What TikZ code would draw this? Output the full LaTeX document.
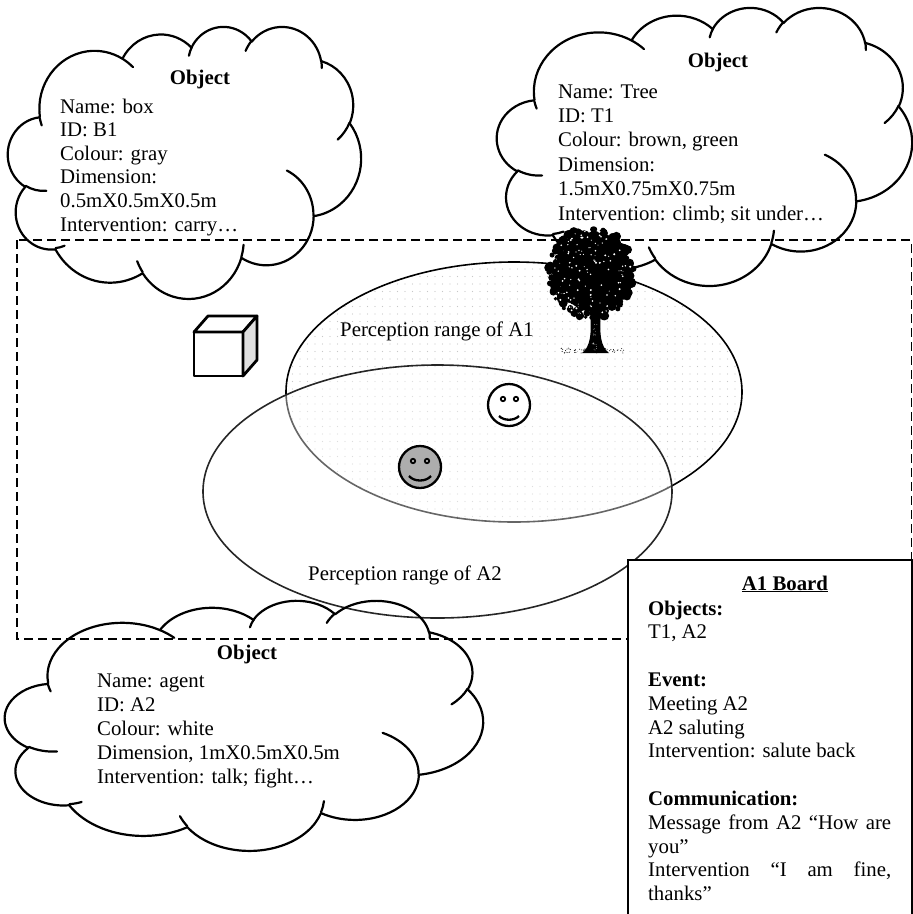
\documentclass[tikz,border=0pt]{standalone}
\usepackage{fontspec}
\setmainfont{Liberation Serif}
\usetikzlibrary{patterns.meta}

\tikzset{
  cloudline/.style={line width=2.2pt, line cap=round, line join=round},
  txt/.style={inner sep=0pt, font=\fontsize{20.8}{24}\selectfont},
  rangeA/.style={draw=black, line width=1.6pt,
    pattern={Dots[distance=7.5pt, radius=0.6pt]}, pattern color=black!22},
  rangeB/.style={draw=black!85, line width=1.6pt, fill=white, fill opacity=0.4},
  frame/.style={dash pattern=on 9pt off 5pt, line width=1.8pt},
  cubeline/.style={line width=2.8pt, line join=round},
  face/.style={line width=2.3pt},
  boardline/.style={line width=1.8pt, fill=white},
}

% Office-style cloud outline in a 100 x 100 box, placed at (#1,#2) with size #3 x #4
\newcommand\drawcloud[4]{%
  \begin{scope}[shift={(#1,#2)}, xscale=#3/100, yscale=#4/100, cloudline]
    \draw (9.028,33.264)
      arc[start angle=172.25, end angle=300.36, x radius=15.632, y radius=21.273]
      arc[start angle=207.98, end angle=314.55, x radius=12.345, y radius=16.822]
      arc[start angle=206.51, end angle=322.68, x radius=10.104, y radius=13.762]
      arc[start angle=220.27, end angle=349.78, x radius=11.243, y radius=15.266]
      arc[start angle=-74.77, end angle=23.21, x radius=12.345, y radius=16.836]
      arc[start angle=-37.53, end angle=81.86, x radius=15.683, y radius=21.343]
      arc[start angle=0.46, end angle=121.98, x radius=13.391, y radius=18.211]
      arc[start angle=16.84, end angle=146.24, x radius=15.630, y radius=21.331]
      arc[start angle=58.98, end angle=150.18, x radius=17.870, y radius=24.405]
      arc[start angle=83.31, end angle=223.12, x radius=10.093, y radius=13.699]
      arc[start angle=120.36, end angle=264.11, x radius=10.058, y radius=13.762]
      -- cycle;
    % inner hooks where the puffs meet
    \draw (10.863,60.595) arc[start angle=85.54, end angle=120.36, x radius=10.058, y radius=13.762];
    \draw (16.037,80.785) arc[start angle=68.23, end angle=83.31, x radius=10.093, y radius=13.699];
    \draw (38.144,90.486) arc[start angle=146.24, end angle=158.47, x radius=15.630, y radius=21.331];
    \draw (66.729,80.442) arc[start angle=4.73, end angle=16.84, x radius=15.630, y radius=21.331];
    \draw (79.002,53.134) arc[start angle=-64.03, end angle=0.46, x radius=13.391, y radius=18.211];
    \draw (96.755,35.542) arc[start angle=23.21, end angle=49.63, x radius=12.345, y radius=16.836];
    \draw (88.713,12.560) arc[start angle=-10.21, end angle=0.82, x radius=11.243, y radius=15.266];
    \draw (67.310,9.148) arc[start angle=-156.30, end angle=-139.73, x radius=11.243, y radius=15.266];
    \draw (51.252,10.926) arc[start angle=-167.72, end angle=-153.49, x radius=10.104, y radius=13.762];
    \draw (32.407,12.019) arc[start angle=-59.64, end angle=-45.74, x radius=15.632, y radius=21.273];
    \draw (9.553,36.549) arc[start angle=160.38, end angle=167.70, x radius=15.632, y radius=21.273];
  \end{scope}}

\begin{document}
\begin{tikzpicture}[x=1pt, y=-1pt]
  \path[use as bounding box, fill=white] (0,0) rectangle (913,914);

  % perception ranges
  \path[rangeA] (514,392) ellipse [x radius=228, y radius=130];
  \path[rangeB] (437.5,491.5) ellipse [x radius=234.5, y radius=126.5];

  % environment frame
  \draw[frame] (17,240) rectangle (911.5,639);

  % object clouds
  \drawcloud{8}{26}{353}{272}
  \drawcloud{497}{7}{415}{278}
  \drawcloud{5}{600}{478}{250}

  % tree
  \begin{scope}
    \pgfmathsetseed{42}
    \foreach \i in {1,...,60}{
      \pgfmathsetmacro\gx{560+64*rnd}
      \pgfmathsetmacro\gy{348+5*rnd}
      \fill (\gx,\gy) circle (0.5);
    }
    \fill (582,353) .. controls (590,347) and (592,335) .. (590,312)
      -- (601,312) .. controls (599,335) and (601,347) .. (609,353) -- cycle;
    \fill (594,272) ellipse [x radius=36, y radius=40];
    \foreach \i in {1,...,420}{
      \pgfmathsetmacro\ang{360*rnd}
      \pgfmathsetmacro\rr{sqrt(rnd)}
      \fill ({591+43*\rr*cos(\ang)},{273+46*\rr*sin(\ang)}) circle ({1.8+2.8*rnd});
    }
    \foreach \i in {1,...,110}{
      \pgfmathsetmacro\ang{360*rnd}
      \pgfmathsetmacro\rr{sqrt(rnd)}
      \fill[white] ({591+40*\rr*cos(\ang)},{273+43*\rr*sin(\ang)}) circle ({0.4+0.7*rnd});
    }
    \foreach \i in {1,...,20}{
      \pgfmathsetmacro\gx{592+5*rnd}
      \pgfmathsetmacro\gy{322+28*rnd}
      \fill[white] (\gx,\gy) circle (0.35);
    }
  \end{scope}

  % box B1
  \draw[cubeline, fill=white] (194,332) rectangle (243,376);
  \draw[cubeline, fill=white] (194,332) -- (208,316) -- (257,316) -- (243,332) -- cycle;
  \draw[cubeline, fill=black!12] (243,332) -- (257,316) -- (257,360) -- (243,376) -- cycle;

  % agent A1
  \draw[face, fill=white] (509,405) circle (21);
  \draw[line width=1.8pt] (503,399) circle (2.2) (516,399) circle (2.2);
  \draw[face] (499,416) .. controls (504,421) and (514,421) .. (519,416);

  % agent A2
  \draw[face, fill=black!32] (420,467) circle (21);
  \draw[line width=1.8pt] (413,461) circle (2.2) (427,461) circle (2.2);
  \draw[face] (409,476) .. controls (414,482) and (426,482) .. (431,476);

  % range labels
  \node[txt, anchor=base west] (labA1) at (340,336) {Perception range of A1};
  \node[txt, anchor=base west] (labA2) at (308,580) {Perception range of A2};

  % cloud texts
  \node[txt, anchor=base, font=\fontsize{20.8}{24}\selectfont\bfseries] (titleB1) at (200,84) {Object};
  \node[txt, anchor=base west] (infoB1) at (60,113) {\parbox[t]{280pt}{\fontsize{20.8}{23.6}\selectfont\raggedright
    Name: box\\ID: B1\\Colour: gray\\Dimension:\\0.5mX0.5mX0.5m\\Intervention: carry…}};

  \node[txt, anchor=base, font=\fontsize{20.8}{24}\selectfont\bfseries] (titleT1) at (718,67) {Object};
  \node[txt, anchor=base west] (infoT1) at (558,98) {\parbox[t]{330pt}{\fontsize{20.8}{24.4}\selectfont\raggedright
    Name: Tree\\ID: T1\\Colour: brown, green\\Dimension:\\1.5mX0.75mX0.75m\\Intervention: climb; sit under…}};

  \node[txt, anchor=base, font=\fontsize{20.8}{24}\selectfont\bfseries] (titleA2) at (247,659) {Object};
  \node[txt, anchor=base west] (infoA2) at (97,687) {\parbox[t]{330pt}{\fontsize{20.8}{24}\selectfont\raggedright
    Name: agent\\ID: A2\\Colour: white\\Dimension, 1mX0.5mX0.5m\\Intervention: talk; fight…}};

  % board of A1
  \path[boardline] (628,930) -- (628,560) -- (912,560) -- (912,930);
  \draw[line width=1.8pt] (628,930) -- (628,560) -- (912,560) -- (912,930);
  \node[txt, anchor=base, font=\fontsize{20.8}{24}\selectfont\bfseries] (boardtitle) at (785,590) {\underline{A1 Board}};
  \node[txt, anchor=base west] (boardtext) at (648,615) {\parbox[t]{243pt}{\fontsize{20.8}{23.8}\selectfont
    \textbf{Objects:}\\
    T1, A2\\[23.8pt]
    \textbf{Event:}\\
    Meeting A2\\
    A2 saluting\\
    Intervention: salute back\\[23.8pt]
    \textbf{Communication:}\\
    Message from A2 “How are\linebreak you”\\
    Intervention “I am fine,\linebreak thanks”}};
\end{tikzpicture}
\end{document}
